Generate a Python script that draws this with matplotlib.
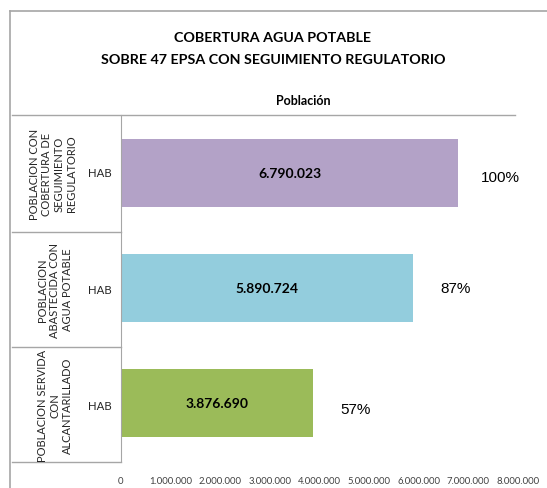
import numpy as np
import matplotlib.pyplot as plt
from matplotlib.lines import Line2D

plt.rcParams['font.family'] = ['Lato', 'DejaVu Sans']

categorias = ['POBLACION CON\nCOBERTURA DE\nSEGUIMIENTO\nREGULATORIO',
              'POBLACION\nABASTECIDA CON\nAGUA POTABLE',
              'POBLACION SERVIDA\nCON\nALCANTARILLADO']
unidad = ['HAB', 'HAB', 'HAB']
poblacion = [6790023, 5890724, 3876690]
colores = ['#B3A2C7', '#93CDDD', '#9BBB59']
xticks = [0, 1000000, 2000000, 3000000, 4000000, 5000000, 6000000, 7000000, 8000000]

W, H = 547, 489
fig = plt.figure(figsize=(W / 100, H / 100), dpi=100)

def fx(px):
    return px / W

def fy(py):
    return 1 - py / H

# outer frame of the chart area
gris = '#A6A6A6'
fig.add_artist(Line2D([fx(10), fx(547)], [fy(12), fy(12)], color=gris, lw=1.2))
fig.add_artist(Line2D([fx(10), fx(10)], [fy(12), fy(489)], color=gris, lw=1.2))

ax = fig.add_axes([fx(121), fy(462), fx(518) - fx(121), (462 - 116) / H])
y = np.arange(len(poblacion))
ax.barh(y, poblacion, height=0.59, color=colores)
ax.set_xlim(0, 8000000)
ax.set_ylim(len(poblacion) - 0.5, -0.5)
ax.set_yticks([])
ax.set_xticks(xticks)
ax.set_xticklabels(['{:,}'.format(v).replace(',', '.') for v in xticks],
                   fontsize=6.8, color='#404040')
ax.tick_params(axis='x', length=0, pad=11)
for s in ['top', 'right', 'bottom']:
    ax.spines[s].set_visible(False)
ax.spines['left'].set_color(gris)

# table lines on the left
fig.add_artist(Line2D([fx(12), fx(515)], [fy(116), fy(116)], color=gris, lw=1))
for b in [233, 348, 463]:
    fig.add_artist(Line2D([fx(12), fx(121)], [fy(b), fy(b)], color=gris, lw=1))

centros = [174, 290, 406]
xcat = [53, 55, 55]
for i, c in enumerate(categorias):
    fig.text(fx(xcat[i]), fy(centros[i]), c, rotation=90, ha='center', va='center',
             fontsize=8, color='#262626', linespacing=1.15)
    fig.text(fx(100), fy(centros[i]), unidad[i], ha='center', va='center',
             fontsize=8.2, color='#262626')

# value labels and percentages
for i, v in enumerate(poblacion):
    ax.text(v / 2, i, '{:,}'.format(v).replace(',', '.'), ha='center', va='center',
            fontsize=10, fontweight='bold', color='black')
    pct = round(v / poblacion[0] * 100)
    ax.text(v + 850000, i + [0.04, 0.0, 0.05][i], '{}%'.format(pct), ha='center', va='center',
            fontsize=11, family='Liberation Sans', color='black')

fig.text(fx(273), fy(38), 'COBERTURA AGUA POTABLE', ha='center', va='center',
         fontsize=10.3, fontweight='bold', color='black')
fig.text(fx(273), fy(60), 'SOBRE 47 EPSA CON SEGUIMIENTO REGULATORIO', ha='center', va='center',
         fontsize=10.3, fontweight='bold', color='black')
fig.text(fx(303), fy(101), 'Población', ha='center', va='center',
         fontsize=9, fontweight='bold', color='black')

fig.savefig('out.png', dpi=100)
